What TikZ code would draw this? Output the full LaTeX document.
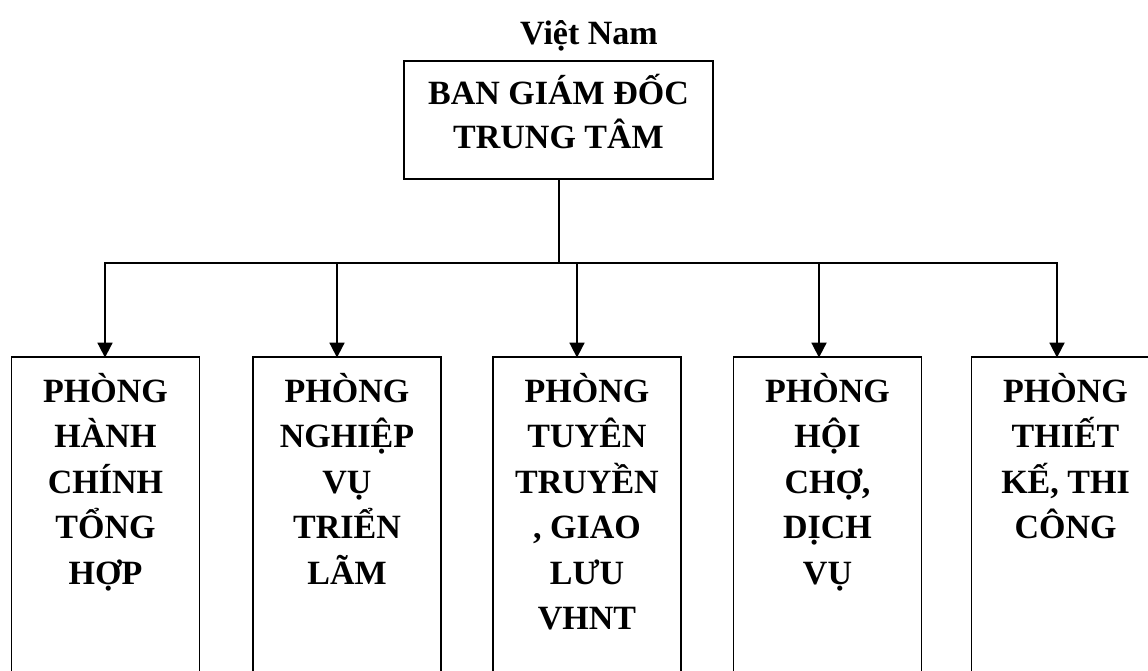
\documentclass[tikz,border=0pt]{standalone}
\usepackage{fontspec}
\setmainfont{Liberation Serif}
\usetikzlibrary{arrows.meta}
\newcommand{\deptbox}[1]{\parbox[c][400pt][t]{188pt}{\centering\fontsize{34}{45.5}\selectfont\bfseries\rule{0pt}{45pt}#1}}
\begin{document}
\begin{tikzpicture}[x=1pt,y=-1pt,
  boxstyle/.style={draw=black,line width=1.3pt,inner sep=0pt,outer sep=0pt},
  conn/.style={draw=black,line width=1.8pt},
  arr/.style={conn,-{Triangle[width=15pt,length=15pt]},shorten >=-0.6pt}]
\useasboundingbox (0,0) rectangle (1148,671);
\clip (0,0) rectangle (1148,671);
\fill[white] (0,0) rectangle (1148,671);
\node[anchor=base,font=\fontsize{34}{40}\selectfont\bfseries,inner sep=0pt] (vn) at (589,45) {Việt Nam};
\node[boxstyle,anchor=north] (top) at (558.5,61) {\parbox[c][118pt][t]{309pt}{\centering\fontsize{34}{44}\selectfont\bfseries\rule{0pt}{44pt}BAN GIÁM ĐỐC\\TRUNG TÂM}};
\node[boxstyle,anchor=north] (b1) at (105.5,357) {\deptbox{PHÒNG\\HÀNH\\CHÍNH\\TỔNG\\HỢP}};
\node[boxstyle,anchor=north] (b2) at (347,357) {\deptbox{PHÒNG\\NGHIỆP\\VỤ\\TRIỂN\\LÃM}};
\node[boxstyle,anchor=north] (b3) at (587,357) {\deptbox{PHÒNG\\TUYÊN\\TRUYỀN\\, GIAO\\LƯU\\VHNT}};
\node[boxstyle,anchor=north] (b4) at (827.5,357) {\deptbox{PHÒNG\\HỘI\\CHỢ,\\DỊCH\\VỤ}};
\node[boxstyle,anchor=north] (b5) at (1065.5,357) {\deptbox{PHÒNG\\THIẾT\\KẾ, THI\\CÔNG}};
\coordinate (trunk) at (559,263);
\coordinate (d1) at (105,263);
\coordinate (d2) at (337,263);
\coordinate (d3) at (577,263);
\coordinate (d4) at (819,263);
\coordinate (d5) at (1057,263);
\draw[conn] (top.south -| trunk) -- (trunk);
\draw[conn,line cap=rect] (d1) -- (d5);
\draw[arr] (d1) -- (d1 |- b1.north);
\draw[arr] (d2) -- (d2 |- b2.north);
\draw[arr] (d3) -- (d3 |- b3.north);
\draw[arr] (d4) -- (d4 |- b4.north);
\draw[arr] (d5) -- (d5 |- b5.north);
\end{tikzpicture}
\end{document}
